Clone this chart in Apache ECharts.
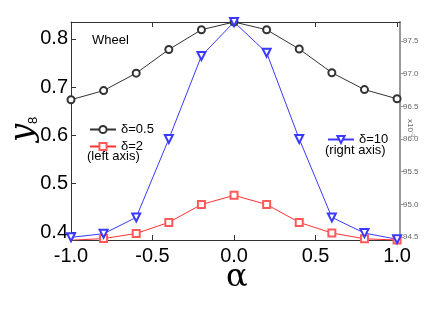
<!DOCTYPE html>
<html>
<head>
<meta charset="utf-8">
<script src="https://cdn.jsdelivr.net/npm/echarts@6/dist/echarts.min.js"></script>
<style>
html,body{margin:0;padding:0;background:#fff;}
#c{width:442px;height:316px;}
</style>
</head>
<body>
<div id="c"></div>
<script>
var alpha = [-1.0, -0.8, -0.6, -0.4, -0.2, 0.0, 0.2, 0.4, 0.6, 0.8, 1.0];
var delta05 = [0.674, 0.693, 0.729, 0.778, 0.819, 0.835, 0.819, 0.779, 0.730, 0.695, 0.676];
var delta2 = [0.383, 0.3865, 0.397, 0.420, 0.457, 0.476, 0.457, 0.420, 0.398, 0.386, 0.3835];
var delta10 = [94.495, 94.55, 94.80, 96.00, 97.27, 97.79, 97.32, 96.00, 94.80, 94.56, 94.465];
var xTicks = [-1.0, -0.5, 0.0, 0.5, 1.0];
var leftTicks = [0.4, 0.5, 0.6, 0.7, 0.8];
var rightTicks = [94.5, 95.0, 95.5, 96.0, 96.5, 97.0, 97.5];

function pairs(xs, ys) { return xs.map(function (x, i) { return [x, ys[i]]; }); }

var FONT = 'Liberation Sans, Arial, sans-serif';
var chart = echarts.init(document.getElementById('c'), null, {renderer: 'canvas'});
chart.setOption({
  animation: false,
  backgroundColor: '#fff',
  grid: {left: 71, right: 42, top: 22, bottom: 76, containLabel: false},
  xAxis: [{
    type: 'value', min: -1.0, max: 1.018, position: 'bottom',
    axisLine: {show: true, onZero: false, lineStyle: {color: '#333', width: 1}},
    axisTick: {show: true, inside: true, length: 5, customValues: xTicks, lineStyle: {color: '#333'}},
    axisLabel: {show: true, customValues: xTicks, margin: 6, fontSize: 20, color: '#000', fontFamily: FONT,
      formatter: function (v) { return v.toFixed(1); }},
    splitLine: {show: false}
  }, {
    type: 'value', min: -1.0, max: 1.018, position: 'top',
    axisLine: {show: true, onZero: false, lineStyle: {color: '#333', width: 1}},
    axisTick: {show: true, inside: true, length: 5, customValues: xTicks, lineStyle: {color: '#333'}},
    axisLabel: {show: false},
    splitLine: {show: false}
  }],
  yAxis: [{
    type: 'value', min: 0.3835, max: 0.835, position: 'left',
    axisLine: {show: true, onZero: false, lineStyle: {color: '#333', width: 1}},
    axisTick: {show: true, inside: true, length: 5, customValues: leftTicks, lineStyle: {color: '#333'}},
    axisLabel: {show: true, customValues: leftTicks, margin: 3, fontSize: 20, color: '#000', fontFamily: FONT,
      formatter: function (v) { return v.toFixed(1); }},
    splitLine: {show: false}
  }, {
    type: 'value', min: 94.454, max: 97.79, position: 'right',
    axisLine: {show: true, onZero: false, lineStyle: {color: '#999', width: 2}},
    axisTick: {show: true, inside: false, length: 4, customValues: rightTicks, lineStyle: {color: '#999'}},
    axisLabel: {show: true, customValues: rightTicks, margin: 3, fontSize: 8, color: '#666', fontFamily: FONT,
      formatter: function (v) { return v.toFixed(1); }},
    splitLine: {show: false}
  }],
  legend: [{
    left: 84, top: 118, orient: 'vertical', itemGap: 4, itemWidth: 26, itemHeight: 9,
    textStyle: {fontSize: 13, color: '#000', fontFamily: FONT},
    data: ['\u03b4=0.5', '\u03b4=2']
  }, {
    left: 322, top: 128, orient: 'vertical', itemWidth: 26, itemHeight: 9,
    textStyle: {fontSize: 13, color: '#000', fontFamily: FONT},
    data: ['\u03b4=10']
  }],
  graphic: [
    {type: 'text', left: 92, top: 34, style: {text: 'Wheel', fontSize: 13, fill: '#000', fontFamily: FONT}},
    {type: 'text', left: 87, top: 150, style: {text: '(left axis)', fontSize: 13, fill: '#000', fontFamily: FONT}},
    {type: 'text', left: 325, top: 144, style: {text: '(right axis)', fontSize: 13, fill: '#000', fontFamily: FONT}},
    {type: 'text', x: 8, y: 142, rotation: Math.PI / 2,
      style: {text: '{a|y}{b|8}', fill: '#000', rich: {
        a: {fontSize: 32, fontStyle: 'italic', fontFamily: 'DejaVu Serif, Liberation Serif, serif', fill: '#000'},
        b: {fontSize: 13, fontFamily: FONT, fill: '#000', verticalAlign: 'bottom', padding: [0, 0, 0, 0]}
      }}},
    {type: 'text', left: 226, top: 262, style: {text: '\u03b1', fontSize: 32, fill: '#000', fontFamily: 'DejaVu Serif, Liberation Serif, serif'}},
    {type: 'text', x: 416, y: 119, rotation: -Math.PI / 2,
      style: {text: 'x10{s|-3}', fontSize: 8, fill: '#666', fontFamily: FONT, rich: {s: {fontSize: 6, fill: '#666', padding: [0, 0, 5, 0]}}}}
  ],
  series: [{
    name: '\u03b4=0.5', type: 'line', xAxisIndex: 0, yAxisIndex: 0,
    data: pairs(alpha, delta05), symbol: 'emptyCircle', symbolSize: 7,
    lineStyle: {color: '#333', width: 1}, itemStyle: {color: '#333', borderWidth: 0.8}
  }, {
    name: '\u03b4=2', type: 'line', xAxisIndex: 0, yAxisIndex: 0,
    data: pairs(alpha, delta2), symbol: 'emptyRect', symbolSize: 7,
    lineStyle: {color: '#ff3030', width: 1}, itemStyle: {color: '#ff5a5a', borderWidth: 0.8}
  }, {
    name: '\u03b4=10', type: 'line', xAxisIndex: 0, yAxisIndex: 1,
    data: pairs(alpha, delta10), symbol: 'emptyTriangle', symbolRotate: 180, symbolSize: 8,
    lineStyle: {color: '#3a3aff', width: 1}, itemStyle: {color: '#3a3aff', borderWidth: 0.8}
  }]
});
</script>
</body>
</html>
